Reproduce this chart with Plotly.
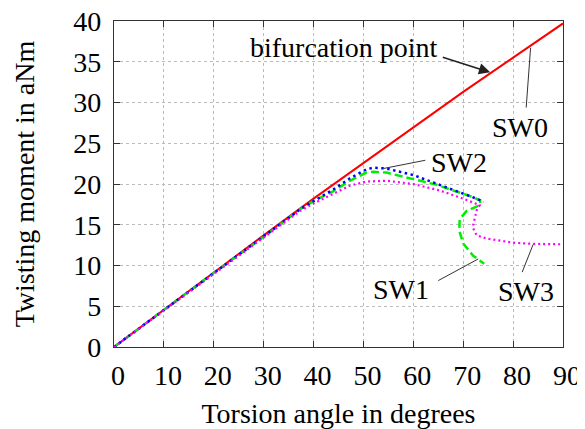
import plotly.graph_objects as go

# ---- data ----
sw0_x = [0, 10, 20, 30, 40, 50, 60, 70, 80, 90]
sw0_y = [0, 4.6, 9.2, 13.7, 18.2, 22.6, 27.0, 31.3, 35.5, 39.7]

sw2_x = [0, 10, 20, 30, 37.3, 40, 43.9, 47.3, 50.6, 52, 54.6, 60, 64, 67.3, 70.7, 72.7, 74.1]
sw2_y = [0, 4.55, 9.1, 13.55, 16.9, 17.9, 19.3, 20.7, 21.8, 22.0, 21.9, 21.1, 20.2, 19.4, 18.7, 18.2, 17.8]

sw1_x = [0, 10, 20, 30, 37.3, 40, 43.9, 47.3, 50.6, 52, 54.6, 60, 64.7, 68, 71, 73.4,
         73.3, 70.7, 69.3, 69.2, 70.0, 72.0, 74.2]
sw1_y = [0, 4.55, 9.1, 13.5, 16.9, 17.9, 19.1, 20.4, 21.4, 21.5, 21.4, 20.6, 19.9, 19.2, 18.6, 18.0,
         17.4, 16.7, 15.7, 14.3, 12.7, 11.2, 10.2]

sw3_x = [0, 10, 20, 30, 37.3, 40, 43.9, 47.3, 50.6, 54.6, 57.3, 60, 65.3, 70, 73.3,
         72.7, 71.9, 72.7, 74.7, 77, 80, 84, 90]
sw3_y = [0, 4.5, 9.0, 13.4, 16.7, 17.6, 18.8, 19.8, 20.3, 20.4, 20.2, 20.0, 19.2, 18.2, 17.4,
         16.8, 14.7, 13.7, 13.3, 13.1, 12.8, 12.65, 12.6]

x_ticks = [0, 10, 20, 30, 40, 50, 60, 70, 80, 90]
y_ticks = [0, 5, 10, 15, 20, 25, 30, 35, 40]

FONT = "Times New Roman, Liberation Serif, serif"
FS = 28

fig = go.Figure()
fig.add_trace(go.Scatter(x=sw0_x, y=sw0_y, mode="lines",
                         line=dict(color="#ff0000", width=2), name="SW0"))
fig.add_trace(go.Scatter(x=sw1_x, y=sw1_y, mode="lines",
                         line=dict(color="#00ee00", width=2.5, dash="8px,4px"), name="SW1"))
fig.add_trace(go.Scatter(x=sw2_x, y=sw2_y, mode="lines",
                         line=dict(color="#0000ff", width=2.5, dash="2.5px,3.5px"), name="SW2"))
fig.add_trace(go.Scatter(x=sw3_x, y=sw3_y, mode="lines",
                         line=dict(color="#ff00ff", width=2.2, dash="2px,3px"), name="SW3"))

axis_common = dict(
    showline=True, linecolor="#333333", linewidth=1.3, mirror="ticks",
    ticks="inside", ticklen=6, tickcolor="#333333", tickwidth=1.3,
    showgrid=True, gridcolor="#bbbbbb", griddash="dot", gridwidth=1,
    zeroline=False, automargin=False, ticklabeloverflow="allow",
    tickfont=dict(family=FONT, size=FS, color="black"),
)

fig.update_xaxes(range=[0, 90], tickvals=x_ticks, ticktext=[str(v) for v in x_ticks],
                 title=dict(text="Torsion angle in degrees", font=dict(family=FONT, size=FS, color="black")),
                 ticklabelstandoff=3, ticklabelshift=4, **axis_common)
fig.update_yaxes(range=[0, 40], tickvals=y_ticks, ticktext=[str(v) for v in y_ticks],
                 title=dict(text="Twisting moment in aNm", font=dict(family=FONT, size=FS, color="black"),
                            standoff=30),
                 ticklabelstandoff=6, **axis_common)

ann_font = dict(family=FONT, size=FS, color="black")
annotations = [
    dict(x=46.1, y=36.7, text="bifurcation point", showarrow=False, font=ann_font,
         xanchor="center", yanchor="middle"),
    dict(x=75.4, y=33.7, ax=65.6, ay=35.6, axref="x", ayref="y", text="", showarrow=True,
         arrowhead=2, arrowsize=1.4, arrowwidth=1.6, arrowcolor="#222222"),
    dict(x=81.4, y=26.9, text="SW0", showarrow=False, font=ann_font),
    dict(x=83.5, y=36.7, ax=82.6, ay=29.2, axref="x", ayref="y", text="", showarrow=True,
         arrowhead=0, arrowwidth=1, arrowcolor="#333333"),
    dict(x=69.1, y=22.7, text="SW2", showarrow=False, font=ann_font),
    dict(x=54.0, y=21.9, ax=62.7, ay=22.95, axref="x", ayref="y", text="", showarrow=True,
         arrowhead=0, arrowwidth=1, arrowcolor="#333333"),
    dict(x=57.5, y=7.1, text="SW1", showarrow=False, font=ann_font),
    dict(x=73.0, y=10.8, ax=64.7, ay=8.05, axref="x", ayref="y", text="", showarrow=True,
         arrowhead=0, arrowwidth=1, arrowcolor="#333333"),
    dict(x=82.6, y=6.85, text="SW3", showarrow=False, font=ann_font),
    dict(x=84.0, y=12.57, ax=81.7, ay=9.0, axref="x", ayref="y", text="", showarrow=True,
         arrowhead=0, arrowwidth=1, arrowcolor="#333333"),
]

# the page body has an 8px default margin, so the figure starts at (8, 8)
fig.update_layout(
    width=577, height=421,
    margin=dict(l=106, r=22, t=13, b=82),
    paper_bgcolor="white", plot_bgcolor="white",
    showlegend=False,
    annotations=annotations,
    font=dict(family=FONT, size=FS, color="black"),
)

fig.write_html("out.html")
